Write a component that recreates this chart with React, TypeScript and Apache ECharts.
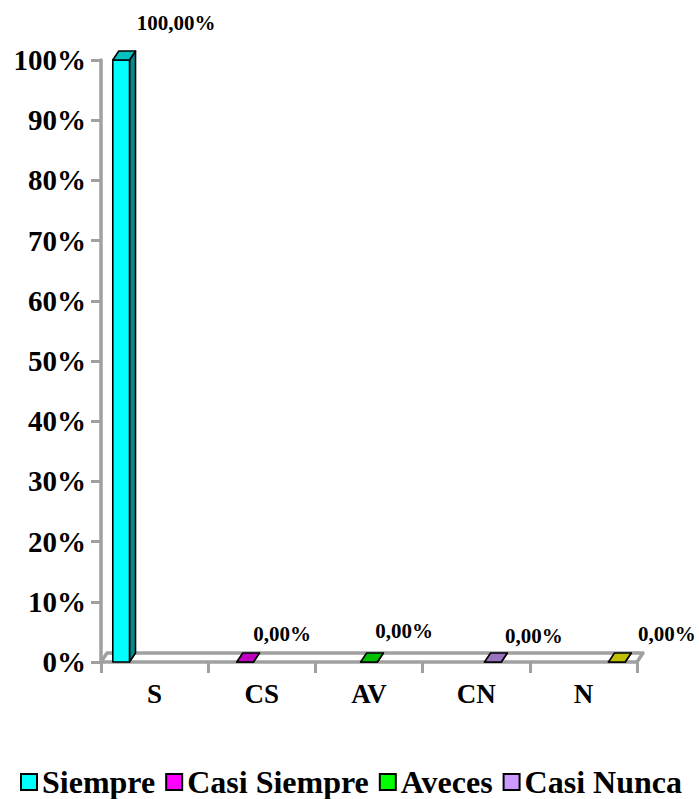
import React, { useEffect, useRef } from "react";
import * as echarts from "echarts";

const categories = ["S", "CS", "AV", "CN", "N"];
const seriesNames = ["Siempre", "Casi Siempre", "Aveces", "Casi Nunca", "Nunca"];
const percentages = [100, 0, 0, 0, 0];
// legend entries visible in the reference (the last one runs off the page there)
const legendNames = ["Siempre", "Casi Siempre", "Aveces", "Casi Nunca"];
const yTicks = { min: 0, max: 100, interval: 10 };

const frontColors = ["#00FFFF", "#FF00FF", "#00FF00", "#CC99FF", "#FFFF00"];
const topColors = ["#00BFBF", "#BF00BF", "#00BF00", "#9973BF", "#BFBF00"];
const sideColors = ["#008C8C", "#8C008C", "#008C00", "#70548C", "#8C8C00"];
const labelDx = [55, 37, 35, 41, 50];
const labelDy = [-37, -28, -31, -26, -28];

const DX = 6;
const DY = -9;
const GRAY = "#a0a0a0";
const FONT = '"Liberation Serif", "Times New Roman", serif';

const fmt = (v: number) => v.toFixed(2).replace(".", ",") + "%";

function makeRender(si: number) {
  return (_params: any, api: any) => {
    const cat = api.value(0);
    const val = api.value(1);
    const base = api.coord([cat, 0]);
    const top = api.coord([cat, val]);
    const band = api.size([1, 0])[0];
    const gap = band * 0.11;
    const bw = (band - 2 * gap) / seriesNames.length;
    const x0 = base[0] - band / 2 + gap + si * bw;
    const x1 = x0 + bw;
    const yb = base[1];
    const yt = top[1];
    const stroke = { stroke: "#000", lineWidth: 1.6, lineJoin: "round" };
    return {
      type: "group",
      children: [
        {
          type: "polygon",
          shape: { points: [[x1, yt], [x1 + DX, yt + DY], [x1 + DX, yb + DY], [x1, yb]] },
          style: { fill: sideColors[si], ...stroke },
        },
        {
          type: "rect",
          shape: { x: x0, y: yt, width: bw, height: yb - yt },
          style: { fill: frontColors[si], ...stroke },
        },
        {
          type: "polygon",
          shape: { points: [[x0, yt], [x0 + DX, yt + DY], [x1 + DX, yt + DY], [x1, yt]] },
          style: { fill: topColors[si], ...stroke },
        },
        {
          type: "text",
          x: (x0 + x1) / 2 + labelDx[si],
          y: yt + labelDy[si],
          style: {
            text: fmt(val),
            fill: "#000",
            fontSize: 21,
            fontWeight: "bold",
            fontFamily: FONT,
            align: "center",
            verticalAlign: "middle",
          },
        },
      ],
    };
  };
}

export default function App() {
  const ref = useRef<HTMLDivElement>(null);
  useEffect(() => {
    if (!ref.current) return;
    const chart = echarts.init(ref.current, null, { renderer: "svg" });
    const barSeries = seriesNames.map((name, si) => ({
      type: "custom",
      name,
      clip: false,
      z: 3,
      itemStyle: { color: frontColors[si] },
      data: [[si, percentages[si]]],
      renderItem: makeRender(si),
    }));
    const floorSeries = {
      type: "custom",
      name: "floor",
      silent: true,
      clip: false,
      z: 1,
      data: [[0, 0]],
      renderItem: (_p: any, api: any) => {
        const a = api.coord([0, 0]);
        const b = api.coord([categories.length - 1, 0]);
        const band = api.size([1, 0])[0];
        const L = a[0] - band / 2;
        const R = b[0] + band / 2;
        const y = a[1];
        return {
          type: "polyline",
          shape: { points: [[L, y], [L + DX, y + DY], [R + DX, y + DY], [R, y]] },
          style: { stroke: GRAY, lineWidth: 3.5, fill: null, lineJoin: "round" },
        };
      },
    };
    chart.setOption({
      animation: false,
      backgroundColor: "#fff",
      grid: { left: 101, right: 62, top: 60, bottom: 137, outerBoundsMode: "none" },
      legend: {
        data: legendNames,
        left: 20,
        top: 766,
        padding: 0,
        icon: "rect",
        itemWidth: 16,
        itemHeight: 16,
        itemGap: 10,
        itemStyle: { borderColor: "#000", borderWidth: 2 },
        textStyle: { fontSize: 32, fontWeight: "bold", fontFamily: FONT, color: "#000" },
      },
      xAxis: {
        type: "category",
        data: categories,
        boundaryGap: true,
        axisLine: { show: true, lineStyle: { color: GRAY, width: 3.5 } },
        axisTick: { show: true, length: 11, lineStyle: { color: GRAY, width: 3 } },
        axisLabel: {
          margin: 18,
          fontSize: 27,
          fontWeight: "bold",
          fontFamily: FONT,
          color: "#000",
        },
        splitLine: { show: false },
      },
      yAxis: {
        type: "value",
        min: yTicks.min,
        max: yTicks.max,
        interval: yTicks.interval,
        axisLine: { show: true, lineStyle: { color: GRAY, width: 3.5 } },
        axisTick: { show: true, length: 10, lineStyle: { color: GRAY, width: 3 } },
        axisLabel: {
          formatter: "{value}%",
          margin: 15,
          fontSize: 29,
          fontWeight: "bold",
          fontFamily: FONT,
          color: "#000",
        },
        splitLine: { show: false },
      },
      series: [floorSeries, ...barSeries],
    });
    return () => chart.dispose();
  }, []);
  return (
    <div
      ref={ref}
      style={{ position: "fixed", left: 0, top: 0, width: 699, height: 799 }}
    />
  );
}
